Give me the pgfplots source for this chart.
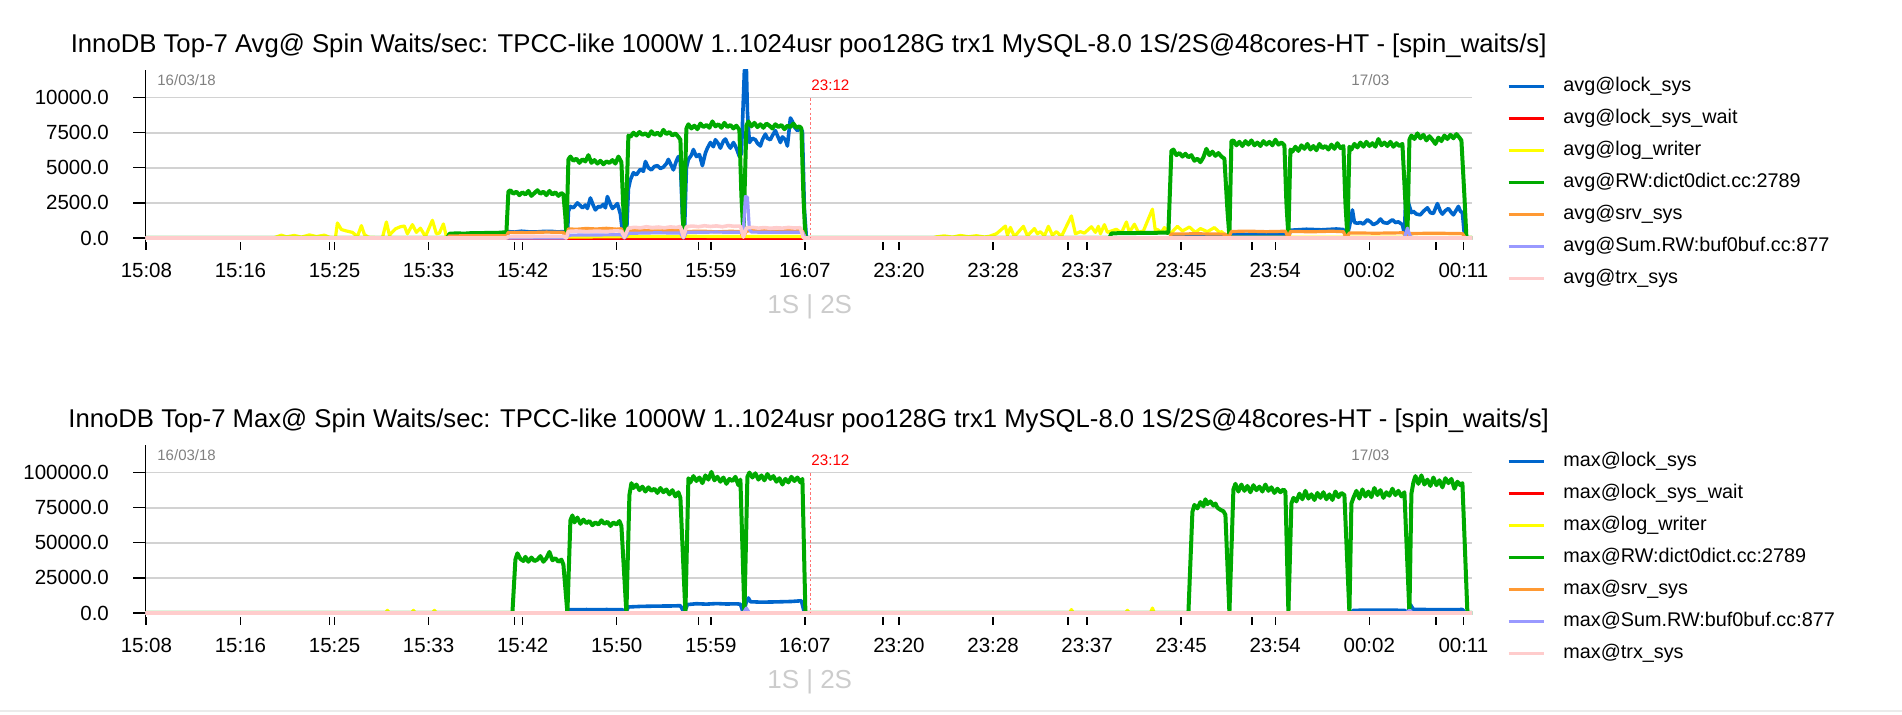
\documentclass[border=0pt]{standalone}
\usepackage{fontspec}
\setmainfont{Liberation Sans}
\usepackage{pgfplots}
\pgfplotsset{compat=1.18}
\definecolor{cLock}{RGB}{0,102,204}
\definecolor{cWait}{RGB}{255,0,0}
\definecolor{cLog}{RGB}{255,255,0}
\definecolor{cRW}{RGB}{0,170,0}
\definecolor{cSrv}{RGB}{255,153,51}
\definecolor{cBuf}{RGB}{153,153,255}
\definecolor{cTrx}{RGB}{255,204,204}
\definecolor{cGrid}{RGB}{210,210,210}
\pgfplotsset{
  mychart/.style={
    scale only axis, width=663.3pt, height=90.2pt, anchor=north west,
    xmin=-1, xmax=1325.6,
    axis x line*=bottom, axis y line*=left,
    x axis line style={draw=none},
    y axis line style={black, line width=0.7pt, -},
    xtick={0,94.07,188.14,282.21,376.28,470.35,564.42,658.49,752.56,846.63,940.7,1034.77,1128.84,1222.91,1316.98},
    xticklabels={15:08,15:16,15:25,15:33,15:42,15:50,15:59,16:07,23:20,23:28,23:37,23:45,23:54,00:02,00:11},
    extra x ticks={183.1,368.1,551.8,736.6,921.4,1105.4,1289.6},
    extra x tick labels={},
    xtick align=inside, ytick align=outside,
    xtick style={black, line width=0.7pt, /pgfplots/major tick length=4pt},
    ytick style={black, line width=0.7pt, /pgfplots/major tick length=6pt},
    ymajorgrids, major grid style={line width=0.9pt, color=cGrid},
    tick label style={font=\fontsize{10.25pt}{12pt}\selectfont},
    /pgf/number format/assume math mode=true,
    xticklabel style={yshift=-3.35pt},
    yticklabel style={xshift=-10.45pt},
    scaled y ticks=false,
    no markers,
    every axis plot/.append style={line width=1.6pt, line join=round},
    legend cell align=left,
    legend style={at={(1.0261,0.962)}, anchor=north west, draw=none, fill=none, inner sep=0pt,
      row sep=6.75pt, column sep=8.8pt, font=\fontsize{9.9pt}{11pt}\selectfont,
      nodes={inner sep=0pt, text height=7.2pt, text depth=2.1pt}},
    legend image code/.code={\draw[#1, line width=1.5pt] (0pt,0pt) -- (17.9pt,0pt);},
  }
}
\begin{document}
\begin{tikzpicture}
\path[use as bounding box] (0,0) rectangle (951pt,-357pt);
% ================= AVG =================
\begin{axis}[mychart, at={(72.7pt,-34.75pt)}, ymin=-850, ymax=12000,
  ytick={0,2500,5000,7500,10000}, yticklabels={0.0,2500.0,5000.0,7500.0,10000.0}]
\addplot[cLock, line width=1.8pt] coordinates {(-1,0) (360,0) (362,450) (368,420) (375,480) (382,440) (390,430) (398,470) (405,470) (411,430) (417,450) (419,100) (421,0)
(422,1900) (424,2250) (427,2150) (431,2500) (434,2300) (436,2150) (439,2350) (441,2100) (444,2850) (447,2300) (449,2000) (452,2250) (454,2200) (457,2400) (459,2150) (461,2950) (464,2400) (466,2100) (469,2300) (471,2450) (474,1700) (476,500) (478,100) (480,0)
(482,3500) (484,4150) (487,4650) (490,4500) (494,4900) (497,4750) (499,5450) (502,5000) (505,4850) (508,5100) (511,5150) (514,4950) (517,5050) (520,5300) (522,5600) (525,5150) (527,4850) (530,5500) (532,5800) (534,5400) (536,1500) (538,200)
(540,5000) (542,5600) (545,5900) (547,6300) (550,5800) (553,5950) (556,5150) (559,6050) (561,6400) (564,6800) (567,6500) (569,7000) (572,6700) (574,6400) (577,6900) (579,7050) (582,6600) (584,6400) (587,6800) (589,6550) (591,6200) (593,5800) (595,6000) (598,11950) (600,12000) (601,9000) (603,6800)
(606,7100) (609,7000) (611,6750) (614,6550) (616,7000) (619,7400) (621,7100) (624,7000) (626,7300) (629,7650) (631,7300) (634,6800) (636,7200) (639,7000) (641,6550) (644,8550) (646,8300) (648,7900) (651,7650) (654,7800) (656,7600) (658,2000) (660,0)
(1023,0) (1025,150) (1079,150) (1082,0) (1085,250) (1139,250) (1142,0) (1144,550) (1160,620) (1175,580) (1190,640) (1197,600) (1200,0)
(1203,800) (1206,2000) (1208,1100) (1211,1050) (1214,1100) (1217,1000) (1221,1300) (1224,1150) (1227,950) (1231,1100) (1234,1350) (1237,1100) (1241,1050) (1244,1200) (1246,1300) (1249,1100) (1252,1150) (1256,950) (1258,300)
(1260,4150) (1262,2500) (1265,1800) (1267,1900) (1270,1700) (1274,1650) (1277,1900) (1281,2150) (1284,1800) (1287,1750) (1291,2450) (1294,1900) (1296,1700) (1299,1950) (1302,2100) (1305,1800) (1307,1650) (1310,2000) (1312,2250) (1314,1900) (1316,1800) (1318,200) (1320,0) (1325.6,0)};
\addlegendentry{avg@lock\_sys}
\addplot[cWait] coordinates {(-1,0) (1325.6,0)};
\addlegendentry{avg@lock\_sys\_wait}
\addplot[cLog] coordinates {(-1,0) (127,0) (131,100) (135,200) (140,80) (148,180) (155,60) (163,220) (170,100) (178,200) (183,50) (189,0) (191,1070) (195,600) (200,500) (206,400) (211,100) (215,880) (218,250) (222,50) (236,0) (240,1140) (243,200) (249,650) (254,800) (258,850) (261,300) (266,950) (270,400) (274,700) (279,100) (286,1260) (290,300) (293,350) (297,1000) (300,100) (303,0) (362,40) (420,60) (482,100) (534,110) (540,120) (594,100) (600,110) (656,100) (659,0)
(786,0) (790,80) (798,150) (806,60) (814,180) (822,90) (830,160) (838,70) (843,120) (850,300) (859,850) (861,200) (864,750) (868,100) (877,830) (881,150) (888,670) (891,300) (894,450) (898,150) (902,830) (906,200) (910,450) (915,100) (925,1570) (929,300) (934,450) (938,350) (945,800) (949,400) (952,830) (954,300) (958,950) (961,400) (970,620) (975,350) (980,1140) (983,400) (988,980) (992,400) (997,500) (1006,2050) (1009,500) (1011,600) (1015,400) (1018,740) (1024,300) (1031,830) (1036,500) (1043,780) (1049,400) (1054,670) (1061,450) (1068,740) (1074,350) (1075,450) (1081,100) (1085,60) (1325.6,40)};
\addlegendentry{avg@log\_writer}
\addplot[cRW, line width=2pt] coordinates {(-1,0) (301,0) (303,300) (310,330) (318,310) (326,350) (334,340) (342,370) (350,360) (358,400) (360,400)
(362,3300) (364,3400) (367,3150) (370,3300) (373,3050) (376,3250) (379,3100) (382,3350) (385,3000) (388,3200) (391,3400) (394,3150) (397,3300) (400,3050) (403,3350) (406,3100) (409,3250) (412,3000) (415,3200) (417,3100) (419,1500) (420,150)
(422,5600) (424,5800) (427,5500) (430,5650) (433,5350) (436,5600) (439,5450) (442,5900) (445,5350) (448,5550) (451,5300) (454,5500) (457,5250) (460,5450) (463,5350) (466,5550) (469,5300) (472,5800) (475,5400) (477,2000) (479,150)
(482,7300) (484,7200) (487,7500) (490,7300) (493,7550) (496,7350) (499,7450) (502,7250) (505,7600) (508,7350) (511,7500) (514,7300) (517,7700) (520,7400) (523,7550) (526,7300) (529,7450) (532,7200) (534,7000) (536,2500) (537,200)
(540,7800) (542,8100) (545,7800) (548,8000) (551,7750) (554,8150) (557,7900) (560,8050) (563,7850) (566,8300) (569,7950) (572,8100) (575,7850) (578,8200) (581,7900) (584,8050) (587,7800) (590,8000) (593,7700) (595,3000) (597,200)
(600,8000) (602,8300) (605,7950) (608,8200) (611,7900) (614,8100) (617,7850) (620,8150) (623,8000) (626,7800) (629,8100) (632,7900) (635,8050) (638,7750) (641,8000) (644,7900) (647,8150) (650,7850) (653,7950) (655,7800) (657,3000) (659,0)
(963,0) (965,320) (975,350) (985,340) (995,370) (1005,360) (1015,380) (1022,370)
(1025,6200) (1027,6300) (1030,5900) (1033,6050) (1036,5800) (1039,6000) (1042,5750) (1045,5900) (1048,5500) (1051,5650) (1054,5400) (1057,5750) (1060,6350) (1063,5900) (1066,6150) (1069,5850) (1072,6050) (1075,5800) (1078,5650) (1081,2000) (1083,100)
(1085,6900) (1087,6950) (1090,6600) (1093,6850) (1096,6550) (1099,6900) (1102,6650) (1105,6950) (1108,6600) (1111,6800) (1114,6550) (1117,6900) (1120,6650) (1123,6850) (1126,6600) (1129,7000) (1132,6650) (1135,6800) (1138,6600) (1140,2500) (1142,100)
(1144,6300) (1146,6150) (1149,6500) (1152,6200) (1155,6600) (1158,6350) (1161,6700) (1164,6300) (1167,6550) (1170,6250) (1173,6700) (1176,6400) (1179,6550) (1182,6300) (1185,6650) (1188,6350) (1191,6750) (1194,6400) (1197,6550) (1199,2500) (1201,100)
(1203,6500) (1205,6300) (1208,6700) (1211,6450) (1214,6800) (1217,6500) (1220,6850) (1223,6550) (1226,6750) (1229,6500) (1232,7050) (1235,6600) (1238,6800) (1241,6550) (1244,6850) (1247,6500) (1250,6750) (1253,6550) (1256,6700) (1259,2500) (1261,100)
(1263,7000) (1265,7300) (1268,7050) (1271,7450) (1274,7100) (1277,7350) (1280,6950) (1283,7250) (1286,7000) (1289,6700) (1292,7150) (1295,6900) (1298,7300) (1301,7050) (1304,7350) (1307,7100) (1310,7400) (1313,7150) (1315,6950) (1318,3000) (1320,0) (1325.6,0)};
\addlegendentry{avg@RW:dict0dict.cc:2789}
\addplot[cSrv] coordinates {(-1,0) (301,0) (303,150) (360,160) (362,400) (380,380) (400,420) (417,400) (420,50) (422,650) (430,620) (440,680) (450,640) (460,690) (470,630) (475,660) (478,80) (482,500) (495,530) (510,490) (525,540) (534,510) (537,80) (540,460) (555,490) (570,440) (585,480) (594,450) (597,80) (600,500) (615,530) (630,480) (645,540) (656,500) (659,0)
(1023,0) (1025,280) (1050,300) (1079,270) (1082,0) (1085,460) (1100,490) (1120,450) (1139,480) (1142,0) (1144,470) (1165,440) (1185,480) (1197,450) (1200,0) (1203,360) (1230,340) (1257,370) (1260,0) (1263,320) (1290,340) (1316,310) (1319,0) (1325.6,0)};
\addlegendentry{avg@srv\_sys}
\addplot[cBuf] coordinates {(-1,0) (420,0) (422,200) (475,230) (478,0) (482,330) (510,370) (534,350) (537,0) (540,400) (570,420) (594,400) (597,600) (599,2950) (601,2900) (603,600) (605,420) (630,400) (656,410) (659,0) (1258,0) (1261,700) (1264,100) (1267,0) (1325.6,0)};
\addlegendentry{avg@Sum.RW:buf0buf.cc:877}
\addplot[cTrx, line width=1.8pt] coordinates {(-1,0) (360,0) (362,100) (417,120) (420,0) (422,470) (430,500) (440,450) (450,490) (460,460) (470,510) (475,480) (478,50) (482,700) (488,760) (494,720) (500,800) (506,740) (512,780) (518,720) (524,790) (530,750) (534,820) (537,60) (540,800) (546,850) (552,800) (558,870) (564,820) (570,860) (576,800) (582,880) (588,830) (594,850) (597,60) (600,720) (606,760) (612,700) (618,740) (624,690) (630,730) (636,700) (642,750) (648,710) (654,730) (657,0) (1325.6,0)};
\addlegendentry{avg@trx\_sys}
\draw[red!55, line width=0.5pt, dash pattern=on 1.2pt off 1.2pt] (axis cs:663.6,9950) -- (axis cs:663.6,0);
\end{axis}
% ================= MAX =================
\begin{axis}[mychart, at={(72.7pt,-222.25pt)}, ymin=-8500, ymax=120000,
  ytick={0,25000,50000,75000,100000}, yticklabels={0.0,25000.0,50000.0,75000.0,100000.0}]
\addplot[cLock, line width=1.8pt] coordinates {(-1,0) (421,0) (423,2400) (430,2300) (440,2450) (450,2350) (460,2450) (470,2400) (476,2300) (479,0) (482,4300) (495,4700) (510,4900) (525,5000) (534,5200) (538,0) (541,6000) (550,6600) (560,6300) (570,6700) (580,6400) (590,6500) (594,6300) (597,0) (600,8000) (602,10700) (604,8000) (615,7700) (630,7900) (645,8200) (655,8700) (658,0) (1205,0) (1207,1900) (1230,1950) (1258,1900) (1261,0) (1264,5950) (1267,2500) (1290,2400) (1316,2450) (1319,0) (1325.6,0)};
\addlegendentry{max@lock\_sys}
\addplot[cWait] coordinates {(-1,0) (1325.6,0)};
\addlegendentry{max@lock\_sys\_wait}
\addplot[cLog] coordinates {(-1,0) (239,0) (241,1900) (243,0) (265,0) (267,1900) (269,0) (286,0) (288,1900) (290,0) (923,0) (925,2400) (927,0) (979,0) (981,1900) (983,0) (1004,0) (1006,3500) (1008,0) (1325.6,0)};
\addlegendentry{max@log\_writer}
\addplot[cRW, line width=2pt] coordinates {(-1,0) (366,0)
(369,38000) (371,42500) (374,38500) (377,37000) (379,40000) (382,36500) (385,39500) (388,37000) (391,38000) (394,40500) (397,36500) (400,39000) (403,43500) (406,37500) (409,39000) (412,36500) (415,38000) (417,34500) (421,0)
(424,66000) (426,69500) (428,64500) (431,68000) (434,63500) (437,66500) (440,64000) (443,65500) (446,62500) (449,64500) (452,63000) (455,66000) (458,63500) (461,65000) (464,62000) (467,64500) (470,63000) (473,65500) (475,62000) (480,0)
(483,84000) (485,92500) (487,89000) (490,91500) (493,87500) (496,90000) (499,86500) (502,89500) (505,87000) (508,88500) (511,85500) (514,89000) (517,86000) (520,88000) (523,84500) (526,87500) (529,83000) (532,86000) (534,82000) (539,0)
(542,96000) (544,93000) (547,97500) (550,94000) (553,96500) (556,92500) (559,98000) (562,95000) (565,100500) (568,94500) (571,97000) (574,93500) (577,96500) (580,92000) (583,95500) (586,94000) (589,97000) (592,91000) (594,95000) (598,0)
(601,97000) (603,100000) (606,96500) (609,99500) (612,95000) (615,98000) (618,94500) (621,99000) (624,95500) (627,97500) (630,93500) (633,96000) (636,91500) (639,95500) (642,93000) (645,97000) (648,94000) (651,96500) (654,93000) (656,95500) (659,0)
(1042,0) (1046,72000) (1048,77000) (1051,74500) (1054,79000) (1057,76000) (1059,81000) (1061,77500) (1064,79500) (1067,76500) (1069,78000) (1071,75000) (1074,73500) (1077,72500) (1079,70000) (1083,0)
(1087,88000) (1089,92000) (1092,86500) (1095,91500) (1098,87000) (1101,90500) (1104,86000) (1107,91000) (1110,87500) (1113,90000) (1116,86500) (1119,91500) (1122,87000) (1125,89500) (1128,85500) (1131,88500) (1134,86000) (1137,88000) (1139,86500) (1142,0)
(1145,78000) (1147,82000) (1150,79500) (1153,85000) (1156,81000) (1159,87000) (1162,81500) (1165,84500) (1168,80500) (1171,85500) (1174,82000) (1177,86000) (1180,81000) (1183,84500) (1186,80500) (1189,86500) (1192,82500) (1195,85500) (1198,84000) (1203,0)
(1205,78000) (1207,82000) (1210,87000) (1213,81500) (1216,88000) (1219,83000) (1222,86500) (1225,82500) (1228,89000) (1231,84000) (1234,87500) (1237,82000) (1240,86000) (1243,83500) (1246,88500) (1249,84000) (1252,87000) (1255,83000) (1258,86000) (1263,0)
(1265,85000) (1267,93000) (1269,97500) (1272,92000) (1275,98000) (1278,91500) (1281,95000) (1284,90500) (1287,96500) (1290,91000) (1293,94500) (1296,89500) (1299,96000) (1302,92500) (1305,95500) (1308,88500) (1311,93500) (1314,91000) (1316,92500) (1321,0) (1325.6,0)};
\addlegendentry{max@RW:dict0dict.cc:2789}
\addplot[cSrv] coordinates {(-1,0) (1325.6,0)};
\addlegendentry{max@srv\_sys}
\addplot[cBuf] coordinates {(-1,0) (597,0) (600,3500) (603,0) (1260,0) (1263,2000) (1266,0) (1325.6,0)};
\addlegendentry{max@Sum.RW:buf0buf.cc:877}
\addplot[cTrx, line width=1.8pt] coordinates {(-1,0) (1325.6,0)};
\addlegendentry{max@trx\_sys}
\draw[red!55, line width=0.5pt, dash pattern=on 1.2pt off 1.2pt] (axis cs:663.6,99500) -- (axis cs:663.6,0);
\end{axis}
% ================= annotations =================
\node[anchor=base, font=\fontsize{12.85pt}{15pt}\selectfont] at (404.35pt,-26.35pt) {InnoDB Top-7 Avg@ Spin Waits/sec: TPCC-like 1000W 1..1024usr poo128G trx1 MySQL-8.0 1S/2S@48cores-HT - [spin\_waits/s]};
\node[anchor=base, font=\fontsize{12.85pt}{15pt}\selectfont] at (404.35pt,-213.85pt) {InnoDB Top-7 Max@ Spin Waits/sec: TPCC-like 1000W 1..1024usr poo128G trx1 MySQL-8.0 1S/2S@48cores-HT - [spin\_waits/s]};
\foreach \dy in {0pt,-187.5pt}{
  \node[anchor=base west, inner sep=0pt, text=black!50, font=\fontsize{7.5pt}{9pt}\selectfont] at (78.5pt,\dy-42.5pt) {16/03/18};
  \node[anchor=base west, inner sep=0pt, text=red, font=\fontsize{7.6pt}{9pt}\selectfont] at (405.5pt,\dy-45pt) {23:12};
  \node[anchor=base west, inner sep=0pt, text=black!50, font=\fontsize{7.6pt}{9pt}\selectfont] at (675.5pt,\dy-42.85pt) {17/03};
  \node[anchor=base, inner sep=0pt, text=black!20, font=\fontsize{13pt}{15pt}\selectfont] at (404.85pt,\dy-156.65pt) {1S | 2S};
}
\draw[black!8, line width=0.6pt] (0pt,-355.5pt) -- (951pt,-355.5pt);
\end{tikzpicture}
\end{document}
